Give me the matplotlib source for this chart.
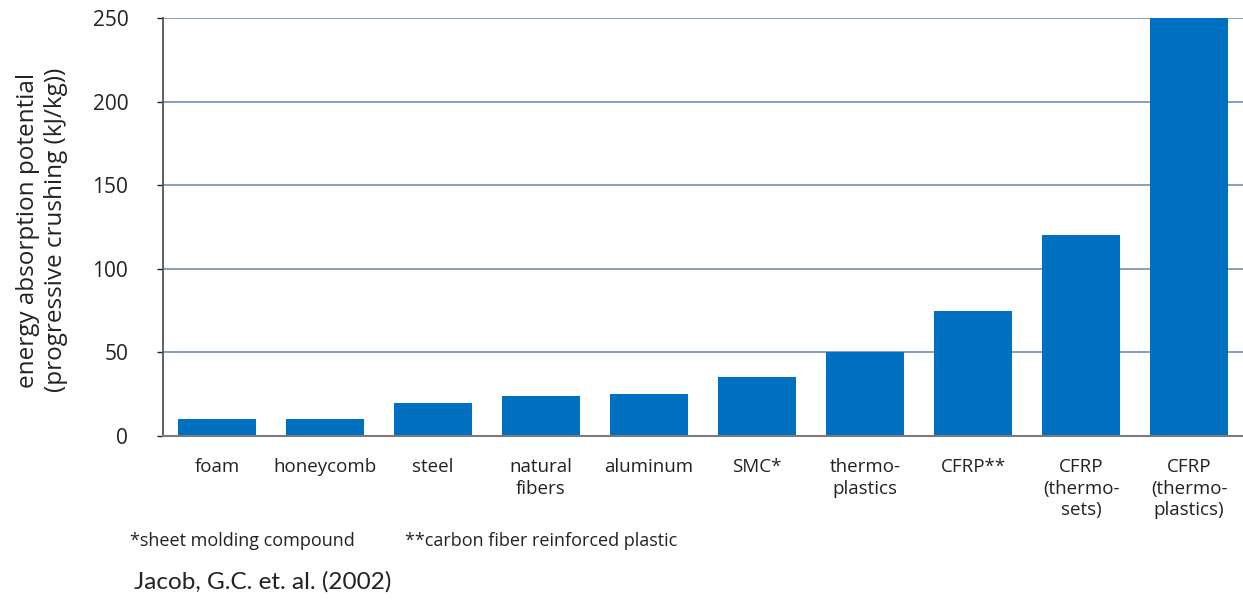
import matplotlib.pyplot as plt

# Energy absorption of crash materials
materials = ['foam', 'honeycomb', 'steel', 'natural\nfibers', 'aluminum', 'SMC*',
             'thermo-\nplastics', 'CFRP**', 'CFRP\n(thermo-\nsets)', 'CFRP\n(thermo-\nplastics)']
energy = [10, 10, 20, 24, 25, 35, 50, 75, 120, 250]
yticks = [0, 50, 100, 150, 200, 250]

plt.rcParams['font.family'] = ['Open Sans', 'DejaVu Sans']

fig = plt.figure(figsize=(12.43, 6.02), dpi=100)
ax = fig.add_axes([163 / 1243, 1 - 436 / 602, 1 - 163 / 1243, 418 / 602])

x = range(len(materials))
ax.bar(x, energy, width=0.72, color='#0070c0', zorder=3)

ax.set_xlim(-0.5, 9.5)
ax.set_ylim(0, 250)
ax.set_yticks(yticks)
ax.yaxis.grid(True, color='#6f8fb3', linewidth=1.2, zorder=0)
ax.set_xticks(list(x))
ax.set_xticklabels(materials, fontsize=13.5, color='#222222', linespacing=1.25)
ax.tick_params(axis='x', length=0, pad=16)
ax.tick_params(axis='y', labelsize=15, colors='#222222', length=4, width=1, direction='out', pad=21)

for s in ['top', 'right']:
    ax.spines[s].set_visible(False)
ax.spines['left'].set_color('#555555')
ax.spines['left'].set_linewidth(1.3)
ax.spines['bottom'].set_color('#7a7a7a')
ax.spines['bottom'].set_linewidth(1.5)
ax.spines['bottom'].set_zorder(4)

fig.text(42 / 1243, 1 - 230 / 602,
         'energy absorption potential\n(progressive crushing (kJ/kg))',
         rotation=90, fontsize=17.5, color='#222222', linespacing=1.2,
         ha='center', va='center', multialignment='center')

fig.text(130 / 1243, 1 - 541 / 602, '*sheet molding compound', fontsize=13,
         va='center', ha='left', color='#222222')
fig.text(405 / 1243, 1 - 541 / 602, '**carbon fiber reinforced plastic', fontsize=13,
         va='center', ha='left', color='#222222')
fig.text(134 / 1243, 1 - 582 / 602, 'Jacob, G.C. et. al. (2002)', fontsize=17.5,
         va='center', ha='left', color='#222222', family=['Lato', 'DejaVu Sans'])

fig.savefig('out.png', dpi=100)
